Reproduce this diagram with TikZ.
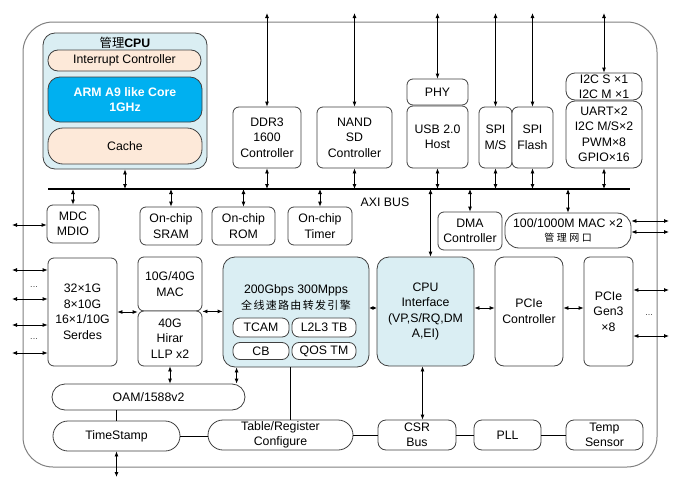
\documentclass[tikz,border=0pt]{standalone}
\usepackage{fontspec}
\setmainfont{Liberation Sans}
\newfontfamily\cjk{Noto Sans CJK SC}
\usetikzlibrary{arrows.meta}
\definecolor{lightblue}{HTML}{DAEEF3}
\definecolor{peach}{HTML}{FDE9D9}
\definecolor{armblue}{HTML}{00B0F0}
\definecolor{edgegray}{HTML}{404040}

\tikzset{
  blk/.style={draw=edgegray, line width=0.8pt, rounded corners=6pt, align=center,
    inner sep=0pt, fill=white, font=\fontsize{12.3}{15.5}\selectfont},
  pill/.style={blk, rounded corners=#1},
  link/.style={line width=0.8pt, {Latex[length=5pt,width=4pt]}-{Latex[length=5pt,width=4pt]}},
  shortlink/.style={line width=0.8pt, {Latex[length=3.5pt,width=3.5pt]}-{Latex[length=3.5pt,width=3.5pt]}},
  wire/.style={line width=0.8pt},
  dots/.style={font=\small, text=edgegray},
}

\begin{document}
\begin{tikzpicture}[x=1pt, y=-1pt]
  \useasboundingbox (0,0) rectangle (681,490);

  % chip outline
  \draw (340,244.5) node[blk, draw=gray, line width=1pt, rounded corners=30pt,
    minimum width=634, minimum height=445] (chip) {};

  % management CPU
  \draw (125,101) node[blk, fill=lightblue, rounded corners=12pt, minimum width=164, minimum height=136] (mgmt) {};
  \draw (125,43) node[font=\fontsize{12.3}{15}\selectfont] (mgmttitle) {{\cjk 管理}\textbf{CPU}};
  \draw (124.5,60.5) node[pill=10pt, fill=peach, minimum width=153, minimum height=21] (intr) {Interrupt Controller};
  \draw (125,99.5) node[blk, fill=armblue, draw=edgegray, rounded corners=12pt, text=white,
    font=\fontsize{12.3}{15.5}\selectfont\bfseries, minimum width=154, minimum height=45] (arm) {ARM A9 like Core\\1GHz};
  \draw (125,146) node[pill=15pt, fill=peach, minimum width=154, minimum height=36] (cache) {Cache};

  % above the bus
  \draw (267,137.5) node[blk, minimum width=68, minimum height=61] (ddr) {DDR3\\1600\\Controller};
  \draw (354.5,137.5) node[blk, minimum width=75, minimum height=61] (nand) {NAND\\SD\\Controller};
  \draw (437.5,92) node[blk, minimum width=61, minimum height=26] (phy) {PHY};
  \draw (437.5,137) node[blk, minimum width=61, minimum height=62] (usb) {USB 2.0\\Host};
  \draw (495.5,137.5) node[blk, minimum width=33, minimum height=61] (spims) {SPI\\M/S};
  \draw (532.5,137.5) node[blk, minimum width=41, minimum height=61] (spifl) {SPI\\Flash};
  \draw (604,86.5) node[blk, rounded corners=9pt, minimum width=76, minimum height=27,
    font=\fontsize{12.3}{15}\selectfont] (i2c) {I2C S ×1\\I2C M ×1};
  \draw (604,134.5) node[blk, rounded corners=9pt, minimum width=76, minimum height=67] (uart) {UART×2\\I2C M/S×2\\PWM×8\\GPIO×16};

  % AXI bus
  \coordinate (busL) at (48,189);
  \coordinate (busR) at (630,189);
  \coordinate (top) at (0,13);
  \draw[line width=2pt] (busL) -- (busR);
  \draw (385,202) node[font=\fontsize{12.3}{15}\selectfont] (axi) {AXI BUS};

  % below the bus
  \draw (73,224) node[blk, minimum width=52, minimum height=38] (mdc) {MDC\\MDIO};
  \draw (171,226) node[blk, minimum width=62, minimum height=38] (sram) {On-chip\\SRAM};
  \draw (243.5,226) node[blk, minimum width=63, minimum height=38] (rom) {On-chip\\ROM};
  \draw (320,226) node[blk, minimum width=64, minimum height=38] (timer) {On-chip\\Timer};
  \draw (470,231) node[blk, minimum width=64, minimum height=38] (dma) {DMA\\Controller};
  \draw (568,230.5) node[pill=14pt, minimum width=126, minimum height=35] (mac2)
    {100/1000M MAC ×2\\[-1pt]{\cjk\fontsize{10}{12}\selectfont\addfontfeatures{LetterSpace=25}管理网口}};

  % datapath row
  \draw (82.5,312) node[blk, minimum width=69, minimum height=108] (serdes) {32×1G\\8×10G\\16×1/10G\\Serdes};
  \draw (170,284) node[blk, minimum width=64, minimum height=54] (mac) {10G/40G\\MAC};
  \draw (170,338.5) node[blk, minimum width=64, minimum height=55] (llp) {40G\\Hirar\\LLP x2};
  \draw (296,312) node[blk, fill=lightblue, rounded corners=12pt, minimum width=146, minimum height=110] (eng) {};
  \draw (296,297) node[align=center, font=\fontsize{12.3}{16}\selectfont] (engtxt)
    {200Gbps 300Mpps\\{\cjk\fontsize{11}{13}\selectfont\addfontfeatures{LetterSpace=12}全线速路由转发引擎}};
  \draw (261,327.5) node[blk, rounded corners=7pt, minimum width=56, minimum height=19] (tcam) {TCAM};
  \draw (324,327.5) node[blk, rounded corners=7pt, minimum width=64, minimum height=19] (l2l3) {L2L3 TB};
  \draw (261,351) node[blk, rounded corners=7pt, minimum width=56, minimum height=17] (cb) {CB};
  \draw (324,351) node[blk, rounded corners=7pt, minimum width=64, minimum height=17] (qos) {QOS TM};
  \draw (425.5,311.5) node[blk, fill=lightblue, rounded corners=12pt, minimum width=97, minimum height=109] (cpuif)
    {CPU\\Interface\\(VP,S/RQ,DM\\A,EI)};
  \draw (529,311.5) node[blk, rounded corners=9pt, minimum width=68, minimum height=109] (pcie) {PCIe\\Controller};
  \draw (608.5,311.5) node[blk, minimum width=49, minimum height=109] (gen3) {PCIe\\Gen3\\×8};

  % bottom rows
  \draw (148.5,397) node[pill=13pt, minimum width=193, minimum height=26] (oam) {OAM/1588v2};
  \draw (116.5,436) node[pill=15pt, minimum width=127, minimum height=30] (ts) {TimeStamp};
  \draw (280.5,435) node[pill=15pt, minimum width=145, minimum height=30] (tab) {Table/Register\\Configure};
  \draw (417,435) node[blk, rounded corners=8pt, minimum width=78, minimum height=30] (csr) {CSR\\Bus};
  \draw (507.5,435) node[blk, rounded corners=8pt, minimum width=67, minimum height=30] (pll) {PLL};
  \draw (604.5,435) node[blk, rounded corners=8pt, minimum width=77, minimum height=30] (temp) {Temp\\Sensor};

  % pins at the top
  \foreach \n in {ddr,nand,phy,spims,spifl,i2c}
    \draw[link] (\n.north |- top) -- (\n.north);

  % bus taps
  \foreach \n in {mgmt,ddr,nand,usb,spims,spifl,uart}
    \draw[link] (\n.south) -- (\n.south |- busL);
  \foreach \n in {mdc,sram,rom,timer,dma,mac2}
    \draw[link] (\n.north |- busL) -- (\n.north);
  \coordinate (cpuifup) at ([xshift=5pt]cpuif.north);
  \draw[link] (cpuifup |- busL) -- (cpuifup);

  % outside pins left and right
  \coordinate (mdcL) at (12,225);
  \draw[link] (mdcL) -- (mdcL -| mdc.west);
  \foreach \y in {270,299,325,353} {
    \coordinate (sl) at (12,\y);
    \draw[link] (sl) -- (sl -| serdes.west);
  }
  \foreach \y in {221,232} {
    \coordinate (mr) at (669,\y);
    \draw[link] (mr -| mac2.east) -- (mr);
  }
  \foreach \y in {290,336} {
    \coordinate (gr) at (669,\y);
    \draw[link] (gr -| gen3.east) -- (gr);
  }
  \draw (34,287) node[dots] (dotsA) {...};
  \draw (34,339) node[dots] (dotsB) {...};
  \draw (649,315) node[dots] (dotsC) {...};

  % datapath links
  \coordinate (row) at (0,308);
  \draw[link] (serdes.east) -- (serdes.east -| mac.west);
  \draw[link] (mac.south east) -- (mac.south east -| eng.west);
  \draw[shortlink] (row -| eng.east) -- (row -| cpuif.west);
  \draw[link] (row -| cpuif.east) -- (row -| pcie.west);
  \draw[link] (row -| pcie.east) -- (row -| gen3.west);

  % lower links
  \coordinate (engoam) at ([xshift=14pt]eng.south west);
  \coordinate (engtab) at ([xshift=68pt]eng.south west);
  \coordinate (cpudn) at ([xshift=-3pt]cpuif.south);
  \coordinate (tsout) at (0,477);
  \draw[link] (llp.south) -- (llp.south |- oam.north);
  \draw[link] (engoam) -- (engoam |- oam.north);
  \draw[wire] (engtab) -- (engtab |- tab.north);
  \draw[link] (cpudn) -- (cpudn |- csr.north);
  \draw[wire] (ts.north |- oam.south) -- (ts.north);
  \draw[wire] (ts.east) -- (ts.east -| tab.west);
  \draw[wire] (tab.east) -- (csr.west);
  \draw[wire] (csr.east) -- (pll.west);
  \draw[wire] (pll.east) -- (temp.west);
  \draw[link] (ts.south) -- (ts.south |- tsout);
\end{tikzpicture}
\end{document}
